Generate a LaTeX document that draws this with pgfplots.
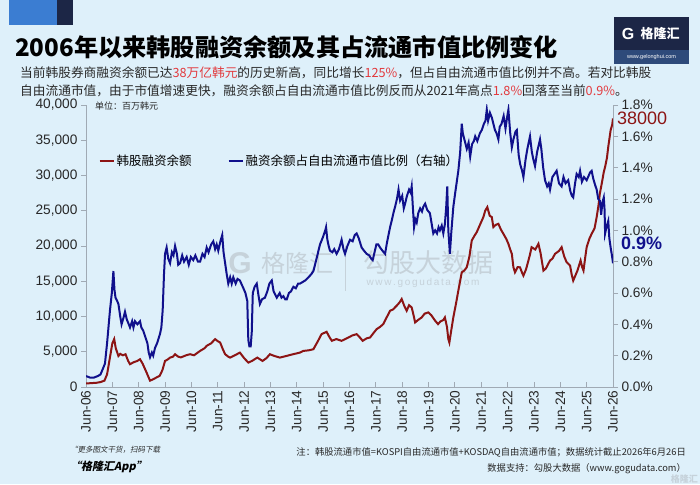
\documentclass[border=0pt]{standalone}
\usepackage{pgfplots}
\pgfplotsset{compat=1.18}
\usepackage{pgfplotstable}
\usepackage{fontspec}
\setmainfont{Liberation Sans}
\newfontfamily\cjk{Noto Sans CJK SC}
\newfontfamily\cjki[FakeSlant=0.2]{Noto Sans CJK SC}
\definecolor{bgc}{RGB}{222,240,250}
\definecolor{redl}{RGB}{140,20,20}
\definecolor{bluel}{RGB}{16,16,140}
\definecolor{axgray}{RGB}{160,170,180}
\definecolor{txt}{RGB}{40,40,40}
\definecolor{hl}{RGB}{226,58,62}
\definecolor{navy}{RGB}{28,38,70}
\definecolor{navy2}{RGB}{46,74,122}
\definecolor{deco}{RGB}{59,125,210}
\definecolor{wm}{RGB}{198,210,218}

\pgfplotstableread{
year val
2006.50 500
2006.70 550
2006.90 600
2007.05 700
2007.20 900
2007.30 1800
2007.40 4000
2007.50 6200
2007.57 6800
2007.63 5500
2007.73 4400
2007.80 4700
2007.90 4500
2008.00 4650
2008.10 3700
2008.17 3230
2008.30 3500
2008.45 3700
2008.55 3940
2008.65 3300
2008.80 2040
2008.93 900
2009.05 1100
2009.20 1400
2009.30 1600
2009.40 2400
2009.50 3700
2009.60 3900
2009.69 4170
2009.80 4300
2009.88 4650
2010.00 4300
2010.10 4200
2010.30 4500
2010.45 4650
2010.60 4500
2010.83 5120
2011.00 5500
2011.08 5840
2011.25 6200
2011.40 6790
2011.50 6500
2011.59 6310
2011.70 5300
2011.78 4650
2011.90 4300
2011.97 4170
2012.15 4500
2012.34 4880
2012.50 4100
2012.66 3460
2012.80 3700
2013.00 4170
2013.20 3700
2013.35 4100
2013.48 4650
2013.65 4400
2013.86 4170
2014.10 4400
2014.36 4650
2014.62 4880
2014.75 5120
2014.95 5200
2015.13 5360
2015.30 6500
2015.44 7500
2015.63 7830
2015.75 7000
2015.83 6550
2016.00 6800
2016.20 6550
2016.46 7020
2016.60 7300
2016.77 7500
2016.90 7000
2017.00 6550
2017.15 6900
2017.28 7020
2017.40 7600
2017.53 8210
2017.65 8500
2017.78 8920
2017.90 9800
2018.04 10820
2018.15 11000
2018.29 11530
2018.40 12000
2018.48 12480
2018.58 11500
2018.67 10820
2018.76 11600
2018.86 11290
2018.93 10200
2018.99 9160
2019.10 9500
2019.24 9870
2019.35 10400
2019.49 10580
2019.60 10200
2019.75 9400
2019.86 8920
2019.95 9300
2020.06 9500
2020.12 9870
2020.20 8500
2020.25 6800
2020.29 6310
2020.36 8000
2020.44 9870
2020.55 12000
2020.63 13670
2020.76 16270
2020.85 16500
2020.95 16980
2021.05 18500
2021.14 20780
2021.25 21500
2021.33 21970
2021.45 23000
2021.58 24100
2021.65 25000
2021.73 25520
2021.82 24300
2021.90 24100
2021.96 22680
2022.05 23000
2022.15 23150
2022.25 22300
2022.34 21730
2022.45 21000
2022.53 20310
2022.60 19500
2022.66 18890
2022.72 17000
2022.78 16270
2022.88 17000
2022.97 16980
2023.05 16200
2023.10 15800
2023.20 16700
2023.29 17940
2023.35 18800
2023.41 19830
2023.55 19500
2023.67 20310
2023.75 19000
2023.86 16510
2023.95 16800
2024.11 17940
2024.20 18200
2024.30 18890
2024.45 19300
2024.55 19830
2024.65 18500
2024.74 17700
2024.87 17230
2024.93 16000
2024.99 15090
2025.07 15800
2025.15 16510
2025.27 17940
2025.33 17000
2025.38 16510
2025.45 18500
2025.50 19830
2025.60 21000
2025.69 21730
2025.80 22500
2025.88 24100
2025.95 25800
2026.00 27430
2026.08 29000
2026.15 30500
2026.20 31220
2026.27 32500
2026.32 34070
2026.41 36440
2026.47 37200
2026.50 38100
}\loandata

\pgfplotstableread{
year pct
2006.50 0.07
2006.65 0.06
2006.80 0.06
2006.95 0.07
2007.05 0.08
2007.15 0.12
2007.22 0.15
2007.30 0.28
2007.41 0.49
2007.48 0.60
2007.54 0.74
2007.58 0.62
2007.62 0.57
2007.68 0.55
2007.73 0.53
2007.80 0.45
2007.85 0.40
2007.92 0.44
2007.98 0.48
2008.05 0.43
2008.10 0.41
2008.17 0.38
2008.25 0.42
2008.30 0.38
2008.36 0.42
2008.45 0.40
2008.55 0.42
2008.60 0.38
2008.67 0.36
2008.75 0.32
2008.83 0.28
2008.88 0.22
2008.93 0.19
2009.00 0.22
2009.05 0.20
2009.12 0.25
2009.20 0.28
2009.31 0.34
2009.36 0.38
2009.41 0.49
2009.46 0.72
2009.50 0.85
2009.56 0.89
2009.62 0.82
2009.69 0.79
2009.76 0.86
2009.82 0.84
2009.88 0.90
2009.95 0.85
2010.00 0.78
2010.07 0.79
2010.15 0.84
2010.22 0.80
2010.32 0.83
2010.40 0.78
2010.48 0.83
2010.57 0.81
2010.65 0.84
2010.75 0.80
2010.83 0.80
2010.92 0.85
2011.00 0.83
2011.08 0.89
2011.15 0.86
2011.25 0.91
2011.33 0.93
2011.40 0.88
2011.46 0.91
2011.52 0.87
2011.60 0.93
2011.67 0.97
2011.72 0.86
2011.78 0.79
2011.84 0.72
2011.90 0.66
2011.97 0.70
2012.03 0.66
2012.09 0.70
2012.18 0.66
2012.25 0.69
2012.34 0.68
2012.42 0.65
2012.50 0.62
2012.55 0.60
2012.62 0.55
2012.66 0.30
2012.70 0.26
2012.75 0.26
2012.79 0.35
2012.83 0.60
2012.90 0.64
2012.98 0.66
2013.05 0.58
2013.10 0.53
2013.18 0.56
2013.29 0.57
2013.38 0.61
2013.46 0.66
2013.55 0.68
2013.62 0.61
2013.68 0.59
2013.74 0.57
2013.85 0.60
2013.92 0.57
2013.99 0.58
2014.06 0.56
2014.12 0.56
2014.20 0.60
2014.28 0.61
2014.37 0.64
2014.46 0.63
2014.55 0.66
2014.62 0.66
2014.72 0.67
2014.82 0.68
2014.94 0.70
2015.05 0.72
2015.13 0.74
2015.25 0.82
2015.38 0.91
2015.50 0.96
2015.58 1.00
2015.61 1.02
2015.66 0.94
2015.71 0.90
2015.76 0.87
2015.85 0.86
2015.92 0.88
2016.01 0.85
2016.10 0.88
2016.20 0.94
2016.27 0.88
2016.33 0.85
2016.42 0.90
2016.52 0.94
2016.62 0.93
2016.70 0.97
2016.77 0.98
2016.85 0.95
2016.96 0.89
2017.05 0.87
2017.15 0.85
2017.25 0.84
2017.32 0.82
2017.38 0.81
2017.45 0.86
2017.52 0.91
2017.59 0.91
2017.66 0.89
2017.75 0.87
2017.85 0.85
2017.92 0.92
2018.04 1.02
2018.10 1.06
2018.18 1.12
2018.23 1.15
2018.30 1.20
2018.36 1.26
2018.42 1.19
2018.50 1.22
2018.56 1.14
2018.61 1.17
2018.68 1.22
2018.76 1.26
2018.82 1.24
2018.86 1.28
2018.90 1.16
2018.95 1.02
2019.00 1.07
2019.05 1.05
2019.11 1.11
2019.18 1.14
2019.25 1.12
2019.30 1.15
2019.37 1.17
2019.45 1.13
2019.55 1.11
2019.62 1.04
2019.68 0.98
2019.75 1.00
2019.82 0.98
2019.88 1.02
2019.93 1.00
2020.00 1.03
2020.06 0.98
2020.12 1.04
2020.17 1.15
2020.21 1.28
2020.25 1.00
2020.31 0.85
2020.36 0.98
2020.44 1.15
2020.52 1.25
2020.63 1.38
2020.70 1.50
2020.76 1.68
2020.80 1.62
2020.89 1.56
2020.95 1.52
2021.02 1.56
2021.08 1.47
2021.15 1.55
2021.22 1.57
2021.27 1.60
2021.35 1.57
2021.45 1.62
2021.52 1.64
2021.60 1.68
2021.66 1.70
2021.71 1.77
2021.76 1.70
2021.83 1.75
2021.90 1.72
2021.96 1.68
2022.02 1.64
2022.08 1.62
2022.15 1.58
2022.20 1.66
2022.27 1.68
2022.35 1.73
2022.42 1.65
2022.48 1.72
2022.53 1.77
2022.60 1.62
2022.66 1.53
2022.72 1.58
2022.80 1.63
2022.85 1.64
2022.92 1.48
2022.98 1.42
2023.05 1.38
2023.10 1.34
2023.18 1.45
2023.25 1.52
2023.35 1.60
2023.42 1.50
2023.48 1.45
2023.54 1.41
2023.62 1.50
2023.73 1.58
2023.78 1.52
2023.85 1.40
2023.92 1.32
2024.00 1.28
2024.06 1.30
2024.11 1.26
2024.20 1.34
2024.28 1.36
2024.36 1.38
2024.45 1.30
2024.55 1.28
2024.62 1.34
2024.70 1.30
2024.80 1.32
2024.88 1.25
2024.94 1.22
2024.99 1.21
2025.06 1.30
2025.12 1.36
2025.20 1.34
2025.25 1.38
2025.32 1.31
2025.40 1.34
2025.50 1.32
2025.58 1.35
2025.63 1.37
2025.69 1.38
2025.75 1.33
2025.82 1.29
2025.88 1.26
2025.94 1.20
2026.00 1.19
2026.05 1.10
2026.10 1.18
2026.15 1.21
2026.18 1.13
2026.20 0.98
2026.25 1.02
2026.32 1.06
2026.36 0.95
2026.41 0.89
2026.46 0.84
2026.50 0.79
}\ratiodata

\pgfplotsset{
  common/.style={
    at={(86pt,97pt)}, anchor=south west, scale only axis,
    width=527pt, height=282pt,
    xmin=2006.5, xmax=2026.5,
    axis line style={draw=axgray, line width=0.9pt},
    tick style={draw=axgray, line width=0.9pt},
    major tick length=5pt,
    /pgf/number format/assume math mode=true,
    tick label style={font=\fontsize{13.7}{14}\selectfont, text=txt},
  }
}

\begin{document}
\begin{tikzpicture}[x=1pt,y=1pt]
\fill[bgc] (0,0) rectangle (700,484);
% top-left decoration
\fill[deco] (9,484) rectangle (57,459);
\fill[navy] (57,484) rectangle (73,459);
% logo
\fill[navy] (614,467) rectangle (689,420);
\fill[navy2] (614,434) rectangle (689,420);
\node[text=white, font=\bfseries\fontsize{16}{16}\selectfont] at (628,450) {G};
\node[text=white, font=\cjk\bfseries\fontsize{13}{13}\selectfont, anchor=west] at (637,450) {格隆汇};
\node[text=white, font=\fontsize{5.5}{6}\selectfont] at (651.5,427) {www.gelonghui.com};
% title
\node[anchor=west, inner sep=0pt, text=black] at (15,437) {\cjk\bfseries\fontsize{24.2}{25}\selectfont 2006年以来韩股融资余额及其占流通市值比例变化};
% subtitle
\node[anchor=west, inner sep=0pt, text=txt] at (20,411) {\cjk\fontsize{12.7}{13}\selectfont 当前韩股券商融资余额已达\textcolor{hl}{38万亿韩元}的历史新高，同比增长\textcolor{hl}{125\%}，但占自由流通市值比例并不高。若对比韩股};
\node[anchor=west, inner sep=0pt, text=txt] at (20,393) {\cjk\fontsize{12.7}{13}\selectfont 自由流通市值，由于市值增速更快，融资余额占自由流通市值比例反而从2021年高点\textcolor{hl}{1.8\%}回落至当前\textcolor{hl}{0.9\%}。};
% watermark
\node[text=wm, font=\bfseries\fontsize{30}{30}\selectfont] at (240,221) {G};
\node[text=wm, anchor=west, font=\cjk\fontsize{24}{24}\selectfont] at (258,221) {格隆汇};
\draw[wm, line width=0.8pt] (345,238) -- (345,193);
\node[text=wm, anchor=west, font=\cjk\fontsize{26}{26}\selectfont] at (360,221) {勾股大数据};
\node[text=wm, anchor=west, font=\fontsize{10}{10}\selectfont] at (363,201) {w\,w\,w\,.\,g\,o\,g\,u\,d\,a\,t\,a\,.\,c\,o\,m};

\begin{axis}[common,
  ymin=0, ymax=40000,
  axis y line*=left, axis x line*=bottom,
  xtick={2006.5,2007.5,2008.5,2009.5,2010.5,2011.5,2012.5,2013.5,2014.5,2015.5,2016.5,2017.5,2018.5,2019.5,2020.5,2021.5,2022.5,2023.5,2024.5,2025.5,2026.5},
  xticklabels={Jun-06,Jun-07,Jun-08,Jun-09,Jun-10,Jun-11,Jun-12,Jun-13,Jun-14,Jun-15,Jun-16,Jun-17,Jun-18,Jun-19,Jun-20,Jun-21,Jun-22,Jun-23,Jun-24,Jun-25,Jun-26},
  x tick label style={rotate=90, anchor=east},
  xtick align=inside,
  ytick={0,5000,10000,15000,20000,25000,30000,35000,40000},
  ytick align=outside,
  scaled y ticks=false,
  yticklabel style={/pgf/number format/.cd, 1000 sep={,}},
  legend style={draw=none, fill=none, at={(0.018,0.80)}, anchor=west,
     font=\cjk\fontsize{12.5}{13}\selectfont, text=black,
     /tikz/every even column/.append style={column sep=34pt}},
  legend columns=2,
  legend image code/.code={\draw[#1, line width=2pt] (0pt,0pt) -- (14pt,0pt);},
]
\addplot[redl, line width=2pt] table[x=year, y=val] {\loandata};
\addlegendentry{韩股融资余额}
\addlegendimage{bluel}
\addlegendentry{融资余额占自由流通市值比例（右轴）}
\end{axis}

\begin{axis}[common,
  ymin=0, ymax=1.8,
  axis y line*=right, axis x line=none,
  ytick={0,0.2,0.4,0.6,0.8,1.0,1.2,1.4,1.6,1.8},
  ytick align=outside,
  yticklabel={\pgfmathprintnumber[fixed, fixed zerofill, precision=1]{\tick}\%},
]
\addplot[bluel, line width=2pt] table[x=year, y=pct] {\ratiodata};
\end{axis}

% unit
\node[anchor=west, inner sep=0pt, text=txt] at (95,378) {\cjk\fontsize{9}{9}\selectfont 单位：百万韩元};
% end labels
\node[anchor=west, inner sep=0pt, text=redl] at (617,366) {\fontsize{18}{18}\selectfont 38000};
\node[anchor=west, inner sep=0pt, text=bluel] at (621,241) {\bfseries\fontsize{18}{18}\selectfont 0.9\%};
% footnotes
\node[anchor=west, inner sep=0pt, text=txt] at (70,34) {\cjki\fontsize{7.5}{8}\selectfont “更多图文干货，扫码下载};
\node[anchor=west, inner sep=0pt, text=black] at (70,17) {\cjki\bfseries\fontsize{11}{11}\selectfont “格隆汇App”};
\node[anchor=east, inner sep=0pt, text=txt] at (686,32) {\cjk\fontsize{9.3}{10}\selectfont 注：韩股流通市值=KOSPI自由流通市值+KOSDAQ自由流通市值；数据统计截止2026年6月26日};
\node[anchor=east, inner sep=0pt, text=txt] at (686,15) {\cjk\fontsize{9.3}{10}\selectfont 数据支持：勾股大数据（www.gogudata.com）};
\node[anchor=east, inner sep=0pt, text=wm] at (698,5) {\cjk\bfseries\fontsize{9}{9}\selectfont 格隆汇};
\end{tikzpicture}
\end{document}
